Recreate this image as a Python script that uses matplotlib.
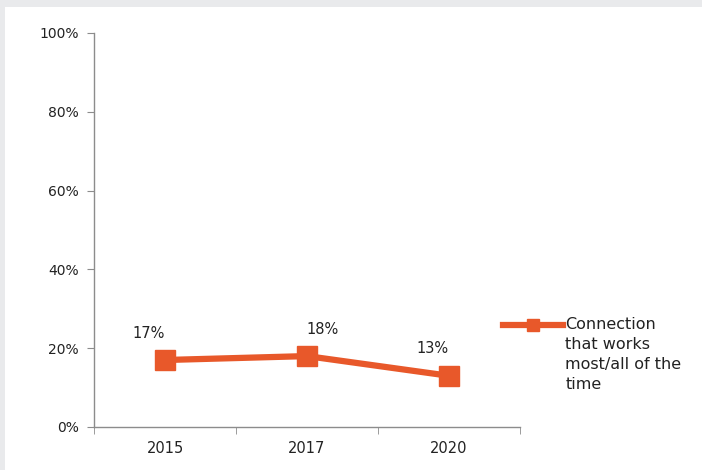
import matplotlib
matplotlib.use("Agg")
import matplotlib.pyplot as plt
from matplotlib.patches import Rectangle

years = ["2015", "2017", "2020"]
values = [17, 18, 13]
label_dx = [-12, 11, -12]
series_name = "Connection\nthat works\nmost/all of the\ntime"
yticks = [0, 20, 40, 60, 80, 100]

ORANGE = "#E8582A"
AXIS_GRAY = "#8c8c8c"

plt.rcParams["font.family"] = ["DejaVu Sans"]

fig = plt.figure(figsize=(7.02, 4.70), dpi=100, facecolor="white")
# light grey frame at top/left, as in the screenshot
fig.add_artist(Rectangle((0, 1 - 7 / 470), 1, 7 / 470, transform=fig.transFigure,
                         facecolor="#e9eaec", edgecolor="none"))
fig.add_artist(Rectangle((0, 0), 5 / 702, 1, transform=fig.transFigure,
                         facecolor="#e9eaec", edgecolor="none"))

ax = fig.add_axes([94 / 702, 43 / 470, 426 / 702, 394 / 470])
x = list(range(len(years)))
ax.plot(x, values, color=ORANGE, linewidth=4.5, marker="s", markersize=14,
        solid_capstyle="butt")

for xi, v, dx in zip(x, values, label_dx):
    ax.annotate(f"{v}%", (xi, v), xytext=(dx, 14), textcoords="offset points",
                ha="center", va="bottom", fontsize=10.5, color="#222222")

ax.set_xlim(-0.5, 2.5)
ax.set_ylim(0, 100)
ax.set_yticks(yticks)
ax.set_yticklabels([f"{t}%" for t in yticks])
ax.set_xticks(x)
ax.set_xticklabels(years)
ax.set_xticks([-0.5, 0.5, 1.5, 2.5], minor=True)
ax.tick_params(axis="x", which="major", length=0, pad=10, labelsize=10.5, colors="#222222")
ax.tick_params(axis="x", which="minor", length=5, color=AXIS_GRAY)
ax.tick_params(axis="y", length=5, color=AXIS_GRAY, labelsize=10, pad=6, labelcolor="#222222")

for side in ["top", "right"]:
    ax.spines[side].set_visible(False)
for side in ["left", "bottom"]:
    ax.spines[side].set_color(AXIS_GRAY)
    ax.spines[side].set_linewidth(1)

# legend drawn beside the plot
ax.plot([0.960, 1.101], [0.259, 0.259], transform=ax.transAxes, clip_on=False,
        color=ORANGE, linewidth=4.5)
ax.plot([1.030], [0.259], transform=ax.transAxes, clip_on=False, color=ORANGE,
        marker="s", markersize=8)
ax.text(1.106, 0.280, series_name, transform=ax.transAxes, ha="left", va="top",
        fontsize=11.5, linespacing=1.42, color="#222222")

fig.savefig("out.png", dpi=100)
